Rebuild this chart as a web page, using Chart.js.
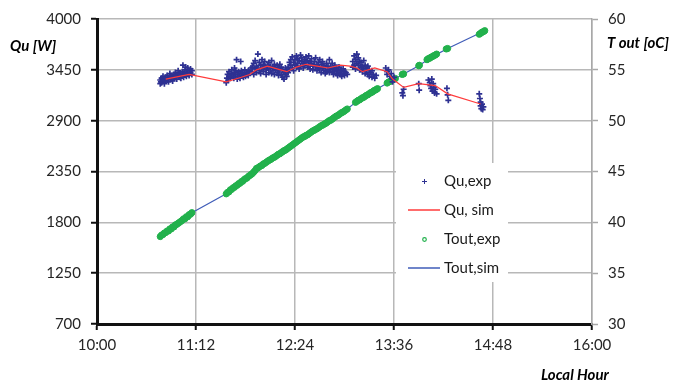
<!DOCTYPE html>
<html>
<head>
<meta charset="utf-8">
<script src="https://cdn.jsdelivr.net/npm/chart.js@4.4.0/dist/chart.umd.min.js"></script>
<style>
  html, body { margin: 0; padding: 0; background: #fff; }
  #wrap { width: 674px; height: 384px; }
</style>
</head>
<body>
<div id="wrap"><canvas id="chartQu" width="674" height="384"></canvas></div>
<script>
// time in minutes after midnight, Qu in W, Tout in oC
var hourTicks = [600, 672, 744, 816, 888, 960];
var quTicks = [700, 1250, 1800, 2350, 2900, 3450, 4000];
var toutTicks = [30, 35, 40, 45, 50, 55, 60];

var quExp = [
  [646,3300],[646,3340],[646.5,3320],[647,3360],[647,3310],[648,3330],[648,3380],[649,3350],[649,3300],
  [650,3370],[650,3330],[651,3340],[651,3390],[652,3360],[652,3320],[653,3380],[653,3410],[654,3350],
  [654,3390],[655,3370],[655,3330],[656,3400],[656,3360],[657,3380],[657,3420],[658,3350],[658,3400],
  [659,3390],[659,3440],[660,3370],[660,3410],[661,3400],[661,3360],[662,3430],[662,3390],[662.5,3500],
  [663,3410],[663,3370],[664,3450],[664,3400],[664.5,3480],[665,3420],[665,3380],[666,3470],[666,3410],
  [667,3440],[667,3390],[668,3420],[668,3460],[669,3400],[669,3440],
  [694,3310],[694.5,3360],[695,3400],[695.5,3340],[696,3380],[696,3430],[697,3360],[697.5,3410],
  [698,3380],[698,3450],[699,3400],[699.5,3360],[700,3420],[700,3470],[700.5,3380],[701,3440],
  [701.5,3560],[702,3400],[702,3350],[703,3430],[703,3380],[704,3410],[704,3360],[704.5,3540],
  [705,3440],[705.5,3390],[706,3420],[706.5,3370],[707,3400],[707.5,3450],[708,3380],[708.5,3420],
  [709,3400],[710,3440],[710,3390],[711,3430],[712,3470],
  [713,3430],[713,3480],[714,3400],[714,3520],[715,3460],[715,3550],[716,3420],[716,3490],[717,3620],
  [717,3470],[718,3440],[718,3530],[719,3500],[719,3410],[720,3460],[720,3560],[721,3430],[721,3510],
  [722,3480],[722,3540],[723,3450],[723,3400],[724,3500],[724,3470],[725,3420],[725,3530],[726,3460],
  [726,3490],[727,3410],[727,3550],[728,3480],[728,3440],[729,3510],[729,3400],[730,3450],[730,3470],
  [731,3420],[731,3500],[732,3390],[732,3460],[733,3440],[733,3510],[734,3400],[734,3480],[735,3370],
  [735,3450],[736,3350],[736,3420],[737,3400],[737,3470],[738,3440],[738,3380],[739,3480],[739,3420],
  [740,3450],[740,3530],[741,3500],[741,3560],[742,3470],[742,3590],[743,3530],[743,3440],[744,3560],
  [744,3500],[745,3480],[745,3600],[746,3520],[746,3570],[747,3550],[747,3460],[748,3490],[748,3610],
  [749,3540],[749,3580],[750,3470],[750,3520],[751,3560],[751,3500],[752,3530],[752,3590],[753,3480],
  [753,3550],[754,3510],[754,3600],[755,3460],[755,3540],[756,3520],[756,3570],[757,3490],[757,3450],
  [758,3540],[758,3510],[759,3470],[759,3580],[760,3500],[760,3440],[761,3530],[761,3480],[762,3460],
  [762,3560],[763,3510],[763,3420],[764,3480],[764,3540],[765,3440],[765,3500],[766,3470],[766,3410],
  [767,3430],[767,3520],[768,3490],[768,3450],[769,3420],[769,3560],[770,3460],[770,3480],[771,3430],
  [771,3520],[772,3470],[772,3400],[773,3440],[773,3500],[774,3410],[774,3460],[775,3450],[775,3390],
  [776,3420],[776,3480],[777,3400],[777,3440],[778,3440],[778,3380],[779,3410],[779,3460],[780,3390],
  [780,3430],[781,3420],[782,3400],
  [786,3480],[786,3540],[787,3600],[787,3500],[788,3560],[788,3460],[789,3620],[789,3520],[790,3500],
  [790,3580],[791,3450],[791,3540],[792,3530],[792,3480],[793,3490],[793,3430],[794,3550],[794,3460],
  [795,3410],[795,3500],[796,3470],[796,3440],[797,3400],[797,3490],[798,3450],[798,3380],[799,3420],
  [800,3370],[800,3440],[801,3400],[802,3360],[803,3390],
  [810,3470],[811,3430],[811,3400],[812,3450],[813,3380],[814,3410],[815,3350],[815,3320],[816,3370],
  [822,3200],[822.5,3170],[823,3240],[834,3300],[834.3,3230],
  [841,3340],[842,3310],[842.5,3280],[843,3250],[843.5,3350],[844,3220],[844.5,3300],[845,3260],
  [845.5,3200],[846,3240],[847,3190],[854.5,3250],[855,3180],[855.5,3120],
  [878,3190],[878.5,3140],[879,3100],[879,3060],[879.5,3030],[880,3080],[880.5,3020],[881,3050]
];

var quSim = [
  [650,3350],[667,3400],[694,3320],[705,3370],[711,3400],[716,3450],[724,3490],[731,3460],[738,3430],
  [745,3480],[752,3510],[760,3490],[768,3470],[777,3500],[784,3490],[789,3470],[793,3430],[802,3470],
  [811,3430],[815,3350],[823,3260],[834,3300],[846,3280],[855,3190],[879,3080]
];

var toutExp = [
  [646,38.6],[647,38.75],[648,38.8],[649,38.95],[650,39.0],[651,39.15],[652,39.15],[653,39.35],[654,39.35],
  [655,39.55],[656,39.55],[657,39.75],[658,39.8],[659,39.9],[660,40.0],[661,40.1],[662,40.2],[663,40.35],
  [664,40.35],[665,40.55],[666,40.55],[667,40.75],[668,40.8],[669,40.95],
  [694,42.8],[695,42.95],[696,43.0],[697,43.2],[698,43.25],[699,43.4],[700,43.45],[701,43.6],[702,43.65],
  [703,43.8],[704,43.85],[705,44.0],[706,44.05],[707,44.2],[708,44.3],[709,44.35],[710,44.5],[711,44.6],
  [712,44.7],[713,44.8],[714,44.95],[715,45.1],[716,45.3],[717,45.35],[718,45.45],[719,45.55],[720,45.6],
  [721,45.75],[722,45.8],[723,45.9],[724,46.0],[725,46.1],[726,46.15],[727,46.25],[728,46.35],[729,46.4],
  [730,46.5],[731,46.6],[732,46.7],[733,46.75],[734,46.85],[735,46.95],[736,47.05],[737,47.1],[738,47.2],
  [739,47.3],[740,47.4],[741,47.5],[742,47.6],[743,47.7],[744,47.8],[745,47.9],[746,48.0],[747,48.1],
  [748,48.2],[749,48.3],[750,48.4],[751,48.45],[752,48.55],[753,48.6],[754,48.7],[755,48.8],[756,48.9],
  [757,49.0],[758,49.05],[759,49.15],[760,49.2],[761,49.3],[762,49.4],[763,49.5],[764,49.55],[765,49.65],
  [766,49.7],[767,49.8],[768,49.9],[769,50.0],[770,50.05],[771,50.15],[772,50.25],[773,50.35],
  [774,50.45],[775,50.5],[776,50.6],[777,50.7],[778,50.8],[779,50.85],[780,50.95],[781,51.05],[782,51.15],
  [788,51.8],[789,51.9],[790,52.0],[791,52.05],[792,52.15],[793,52.25],[794,52.3],[795,52.4],[796,52.5],
  [797,52.55],[798,52.65],[799,52.75],[800,52.8],[801,52.9],[802,53.0],[803,53.05],[804,53.15],
  [811,53.7],[812,53.8],[813,53.85],[814,53.95],[815,54.0],[816,54.1],[817,54.15],
  [822,54.55],[823,54.6],[834,55.4],[834.5,55.45],
  [840,56.0],[841,56.1],[842,56.15],[843,56.25],[844,56.3],[845,56.4],[846,56.45],[847,56.55],
  [854,57.05],[855,57.1],
  [878,58.5],[879,58.6],[880,58.7],[881,58.75],[882,58.85]
];

var toutSim = [
  [646,38.6],[669,40.95],[694,42.8],[744,47.8],[782,51.15],[788,51.8],[804,53.15],[815,54.0],[823,54.6],
  [834,55.4],[844,56.3],[855,57.1],[882,58.85]
];

var seriesNames = ["Qu,exp", "Qu, sim", "Tout,exp", "Tout,sim"];
var navy = "#2e3192", red = "#ff3b3b", green = "#22b14c", blueLine = "#3f5cb8";

function toXY(pairs) {
  return pairs.map(function (p) { return { x: p[0], y: p[1] }; });
}

function hhmm(m) {
  var h = Math.floor(m / 60), mm = Math.round(m % 60);
  return h + ":" + (mm < 10 ? "0" : "") + mm;
}

function fixedTicks(list) {
  return function (s) { s.ticks = list.map(function (v) { return { value: v }; }); };
}

// axis titles and the boxed legend inside the plot
var extraText = {
  id: "extraText",
  afterDraw: function (chart) {
    var ctx = chart.ctx;
    ctx.save();
    ctx.fillStyle = "#000";
    ctx.textBaseline = "middle";
    ctx.textAlign = "left";
    ctx.font = "italic bold 15px Lato";
    ctx.fillText("Qu [W]", 10, 46);
    ctx.fillText("T out [oC]", 607, 43);
    ctx.fillText("Local Hour", 541, 375);

    ctx.fillStyle = "#fff";
    ctx.fillRect(396, 163, 112, 119);

    var rows = [181, 210, 239, 268];
    ctx.font = "15px Lato";
    ctx.fillStyle = "#1a1a1a";
    rows.forEach(function (y, i) {
      ctx.fillText(seriesNames[i], 444, y);
    });

    ctx.strokeStyle = navy;
    ctx.lineWidth = 1;
    ctx.beginPath();
    ctx.moveTo(422, 181.5); ctx.lineTo(427, 181.5);
    ctx.moveTo(424.5, 179); ctx.lineTo(424.5, 184);
    ctx.stroke();

    ctx.strokeStyle = red;
    ctx.lineWidth = 1.5;
    ctx.beginPath(); ctx.moveTo(408, 210); ctx.lineTo(440, 210); ctx.stroke();

    ctx.strokeStyle = green;
    ctx.lineWidth = 1.2;
    ctx.beginPath(); ctx.arc(424.5, 239.5, 1.8, 0, Math.PI * 2); ctx.stroke();

    ctx.strokeStyle = blueLine;
    ctx.lineWidth = 1.5;
    ctx.beginPath(); ctx.moveTo(408, 268); ctx.lineTo(440, 268); ctx.stroke();
    ctx.restore();
  }
};

Chart.defaults.font.family = "Lato";
Chart.defaults.font.size = 15;
Chart.defaults.color = "#262626";

var ctx = document.getElementById("chartQu").getContext("2d");
new Chart(ctx, {
  type: "scatter",
  data: {
    datasets: [
      {
        label: seriesNames[0],
        data: toXY(quExp),
        yAxisID: "y",
        pointStyle: "cross",
        pointRadius: 3,
        borderWidth: 1.7,
        borderColor: navy,
        backgroundColor: navy,
        order: 2,
      },
      {
        label: seriesNames[1],
        data: toXY(quSim),
        yAxisID: "y",
        showLine: true,
        pointRadius: 0,
        borderWidth: 1.2,
        borderColor: red,
        order: 1,
      },
      {
        label: seriesNames[2],
        data: toXY(toutExp),
        yAxisID: "y1",
        pointStyle: "circle",
        pointRadius: 3.1,
        borderWidth: 1,
        borderColor: green,
        backgroundColor: green,
        order: 3,
      },
      {
        label: seriesNames[3],
        data: toXY(toutSim),
        yAxisID: "y1",
        showLine: true,
        pointRadius: 0,
        borderWidth: 1.2,
        borderColor: blueLine,
        order: 4,
      },
    ],
  },
  options: {
    responsive: false,
    animation: false,
    devicePixelRatio: 1,
    layout: { padding: { top: 17, left: 0, right: 0, bottom: 0 } },
    plugins: { legend: { display: false }, tooltip: { enabled: false } },
    scales: {
      x: {
        type: "linear",
        min: hourTicks[0],
        max: hourTicks[hourTicks.length - 1],
        afterBuildTicks: fixedTicks(hourTicks),
        ticks: { padding: 6, callback: function (v) { return hhmm(v); } },
        grid: { color: "#b8b8b8", lineWidth: 1.5, tickColor: "#111", tickLength: 6, tickWidth: 2 },
        border: { color: "#111", width: 3 },
        afterFit: function (s) { s.height = 60; },
      },
      y: {
        position: "left",
        min: quTicks[0],
        max: quTicks[quTicks.length - 1],
        afterBuildTicks: fixedTicks(quTicks),
        ticks: { padding: 10, callback: function (v) { return String(v); } },
        grid: { color: "#b8b8b8", lineWidth: 1.5, tickColor: "#111", tickLength: 6, tickWidth: 2 },
        border: { color: "#111", width: 3 },
        afterFit: function (s) { s.width = 97; },
      },
      y1: {
        position: "right",
        min: toutTicks[0],
        max: toutTicks[toutTicks.length - 1],
        afterBuildTicks: fixedTicks(toutTicks),
        ticks: { padding: 10, callback: function (v) { return String(v); } },
        grid: { drawOnChartArea: false, tickColor: "#a8a8a8", tickLength: 6, tickWidth: 1.5 },
        border: { color: "#a8a8a8", width: 1.5 },
        afterFit: function (s) { s.width = 82; },
      },
    },
  },
  plugins: [extraText],
});
</script>
</body>
</html>
